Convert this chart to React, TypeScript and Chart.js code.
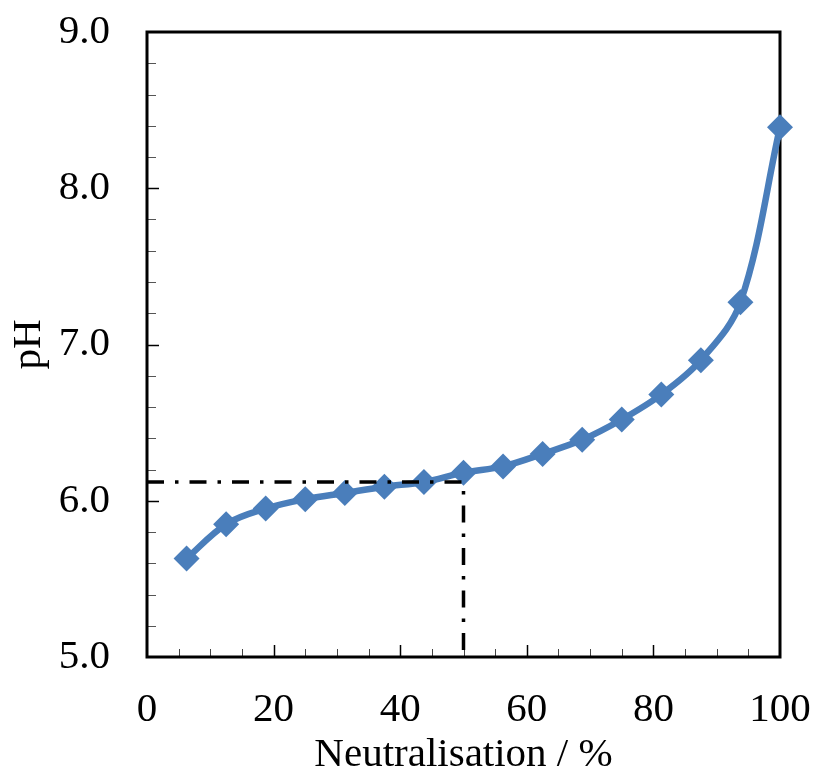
import React, { useEffect, useRef } from 'react';
import { Chart, registerables } from 'chart.js';

Chart.register(...registerables);

const neutralisation = [6.25, 12.5, 18.75, 25, 31.25, 37.5, 43.75, 50, 56.25, 62.5, 68.75, 75, 81.25, 87.5, 93.75, 100];
const pHValues = [5.63, 5.85, 5.95, 6.01, 6.05, 6.09, 6.12, 6.18, 6.22, 6.30, 6.39, 6.52, 6.68, 6.90, 7.27, 8.39];
const halfNeutralisation = 50;
const halfPH = 6.12;
const xTickValues = [0, 20, 40, 60, 80, 100];
const yTickValues = [5, 6, 7, 8, 9];

const FONT = "'Liberation Serif', 'Times New Roman', serif";

export default function App() {
  const ref = useRef<HTMLCanvasElement>(null);

  useEffect(() => {
    const canvas = ref.current;
    if (!canvas) return;

    const framePlugin = {
      id: 'frameTicks',
      beforeDatasetsDraw(chart: any) {
        const { ctx, chartArea: a, scales } = chart;
        const xs = scales.x;
        const ys = scales.y;
        ctx.save();
        for (let v = 5; v < 100; v += 5) {
          const px = Math.round(xs.getPixelForValue(v)) + 0.5;
          const major = v % 20 === 0;
          ctx.beginPath();
          ctx.strokeStyle = major ? '#000' : '#444';
          ctx.lineWidth = major ? 1.5 : 1;
          ctx.moveTo(px, a.bottom);
          ctx.lineTo(px, a.bottom - (major ? 12 : 8));
          ctx.stroke();
        }
        for (let i = 1; i < 20; i++) {
          const v = 5 + i * 0.2;
          const py = Math.round(ys.getPixelForValue(v)) + 0.5;
          const major = i % 5 === 0;
          ctx.beginPath();
          ctx.strokeStyle = major ? '#000' : '#555';
          ctx.lineWidth = major ? 1.5 : 1;
          ctx.moveTo(a.left, py);
          ctx.lineTo(a.left + (major ? 12 : 9), py);
          ctx.stroke();
        }
        ctx.strokeStyle = '#000';
        ctx.lineWidth = 3;
        ctx.strokeRect(a.left, a.top, a.right - a.left, a.bottom - a.top);
        ctx.restore();
      },
    };

    const chart = new Chart(canvas, {
      type: 'line',
      data: {
        datasets: [
          {
            label: 'half neutralisation',
            data: [
              { x: 0, y: halfPH },
              { x: halfNeutralisation, y: halfPH },
              { x: halfNeutralisation, y: 5 },
            ],
            borderColor: '#000',
            borderWidth: 3.5,
            borderDash: [17, 11, 3.5, 11],
            borderCapStyle: 'butt',
            pointRadius: 0,
            tension: 0,
            fill: false,
          },
          {
            label: 'pH',
            data: neutralisation.map((x, i) => ({ x, y: pHValues[i] })),
            borderColor: '#4A7EBB',
            backgroundColor: '#4A7EBB',
            pointBackgroundColor: '#4A7EBB',
            pointBorderColor: '#4A7EBB',
            borderWidth: 6.5,
            pointStyle: 'rectRot',
            pointRadius: 13,
            pointBorderWidth: 0,
            tension: 0.35,
            clip: false as any,
            fill: false,
          },
        ],
      },
      options: {
        animation: false,
        responsive: false,
        maintainAspectRatio: false,
        layout: { padding: { top: 32, right: 36, left: 0, bottom: 0 } },
        plugins: { legend: { display: false }, tooltip: { enabled: false } },
        scales: {
          x: {
            type: 'linear',
            min: 0,
            max: 100,
            afterBuildTicks: (s: any) => {
              s.ticks = xTickValues.map((v) => ({ value: v }));
            },
            grid: { display: false, drawTicks: false },
            border: { display: false },
            ticks: {
              color: '#000',
              font: { family: FONT, size: 41 },
              padding: 29,
              maxRotation: 0,
              autoSkip: false,
              callback: (v: any) => String(v),
            },
            title: {
              display: true,
              text: 'Neutralisation / %',
              color: '#000',
              font: { family: FONT, size: 41 },
              padding: { top: 0, bottom: -6 },
            },
            afterFit: (s: any) => {
              s.height = 117;
              s.paddingLeft = 0;
              s.paddingRight = 0;
            },
          },
          y: {
            type: 'linear',
            min: 5,
            max: 9,
            afterBuildTicks: (s: any) => {
              s.ticks = yTickValues.map((v) => ({ value: v }));
            },
            grid: { display: false, drawTicks: false },
            border: { display: false },
            ticks: {
              color: '#000',
              font: { family: FONT, size: 41 },
              padding: 37,
              autoSkip: false,
              callback: (v: any) => Number(v).toFixed(1),
            },
            title: {
              display: true,
              text: 'pH',
              color: '#000',
              font: { family: FONT, size: 41 },
              padding: { top: 5, bottom: 0 },
            },
            afterFit: (s: any) => {
              s.width = 147;
              s.paddingTop = 0;
              s.paddingBottom = 0;
            },
          },
        },
      },
      plugins: [framePlugin],
    });

    return () => chart.destroy();
  }, []);

  return (
    <div style={{ position: 'fixed', left: 0, top: 0, width: 816, height: 774, background: '#fff' }}>
      <canvas ref={ref} width={816} height={774} style={{ display: 'block', width: 816, height: 774 }} />
    </div>
  );
}
